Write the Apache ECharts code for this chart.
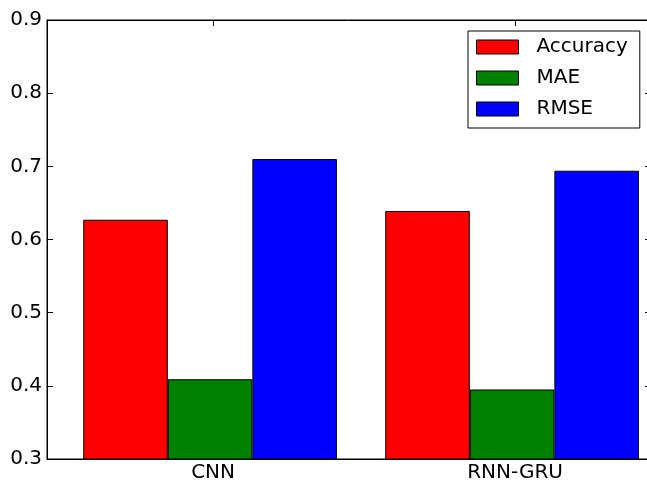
<!DOCTYPE html>
<html>
<head>
<meta charset="utf-8">
<script src="https://cdn.jsdelivr.net/npm/echarts@6/dist/echarts.min.js"></script>
<style>
html,body{margin:0;padding:0;background:#fff;}
#c{width:647px;height:483px;}
</style>
</head>
<body>
<div id="c"></div>
<script>
const categories = ['CNN', 'RNN-GRU'];
const seriesNames = ['Accuracy', 'MAE', 'RMSE'];
const accuracy = [0.627, 0.639];
const mae = [0.409, 0.395];
const rmse = [0.710, 0.694];
const yTicks = [0.3, 0.4, 0.5, 0.6, 0.7, 0.8, 0.9];

const values = [accuracy, mae, rmse];
const colors = ['#ff0000', '#008000', '#0000ff'];
const barW = 0.28;          // bar width in x units
const pxPerUnit = 302;
const xMin = -0.12, xMax = 1.88;
const tickPos = categories.map((c, i) => i + 1.5 * barW + 0.01);
const font = 'DejaVu Sans';

const chart = echarts.init(document.getElementById('c'), null, {renderer: 'canvas'});

const series = seriesNames.map((name, k) => ({
  name: name,
  type: 'bar',
  xAxisIndex: 0,
  yAxisIndex: 0,
  barWidth: barW * pxPerUnit,
  barGap: '-100%',
  clip: true,
  itemStyle: {color: colors[k], borderColor: '#000', borderWidth: 1},
  emphasis: {disabled: true},
  data: categories.map((c, i) => [i + k * barW + barW / 2, values[k][i]])
}));

const xAxisCommon = {
  type: 'value', min: xMin, max: xMax,
  splitLine: {show: false},
  axisLine: {show: true, onZero: false, lineStyle: {color: '#000', width: 1}},
  axisTick: {show: true, inside: true, length: 6, customValues: tickPos, lineStyle: {color: '#000', width: 1}},
};

chart.setOption({
  animation: false,
  backgroundColor: '#fff',
  grid: {left: 47, top: 20, width: (xMax - xMin) * pxPerUnit, height: 439, containLabel: false,
         outerBoundsMode: 'none',
         show: true, borderColor: '#000', borderWidth: 1, backgroundColor: 'transparent'},
  legend: {
    orient: 'vertical', left: 468, top: 31,
    data: seriesNames,
    icon: 'rect', itemWidth: 42, itemHeight: 14, itemGap: 11,
    padding: [6, 12, 9, 8],
    borderColor: '#000', borderWidth: 1, borderRadius: 0,
    backgroundColor: '#fff',
    itemStyle: {borderColor: '#000', borderWidth: 1},
    textStyle: {fontFamily: font, fontSize: 20, color: '#000', lineHeight: 20, padding: [0, 0, 0, 13]},
    selectedMode: false
  },
  xAxis: [
    Object.assign({}, xAxisCommon, {
      position: 'bottom',
      axisLabel: {show: true, customValues: tickPos, margin: 4, color: '#000', fontFamily: font, fontSize: 20,
        formatter: function (v) {
          let idx = 0, best = Infinity;
          tickPos.forEach((p, i) => { if (Math.abs(p - v) < best) { best = Math.abs(p - v); idx = i; } });
          return categories[idx];
        }}
    }),
    Object.assign({}, xAxisCommon, {position: 'top', axisLabel: {show: false}})
  ],
  yAxis: [
    {
      type: 'value', min: yTicks[0], max: yTicks[yTicks.length - 1], interval: 0.1, position: 'left',
      splitLine: {show: false},
      axisLine: {show: true, onZero: false, lineStyle: {color: '#000', width: 1}},
      axisTick: {show: true, inside: true, length: 6, lineStyle: {color: '#000', width: 1}},
      axisLabel: {show: true, margin: 5, color: '#000', fontFamily: font, fontSize: 20,
        formatter: v => v.toFixed(1)}
    },
    {
      type: 'value', min: yTicks[0], max: yTicks[yTicks.length - 1], interval: 0.1, position: 'right',
      splitLine: {show: false},
      axisLine: {show: true, onZero: false, lineStyle: {color: '#000', width: 1}},
      axisTick: {show: true, inside: true, length: 6, lineStyle: {color: '#000', width: 1}},
      axisLabel: {show: false}
    }
  ],
  series: series
});
</script>
</body>
</html>
